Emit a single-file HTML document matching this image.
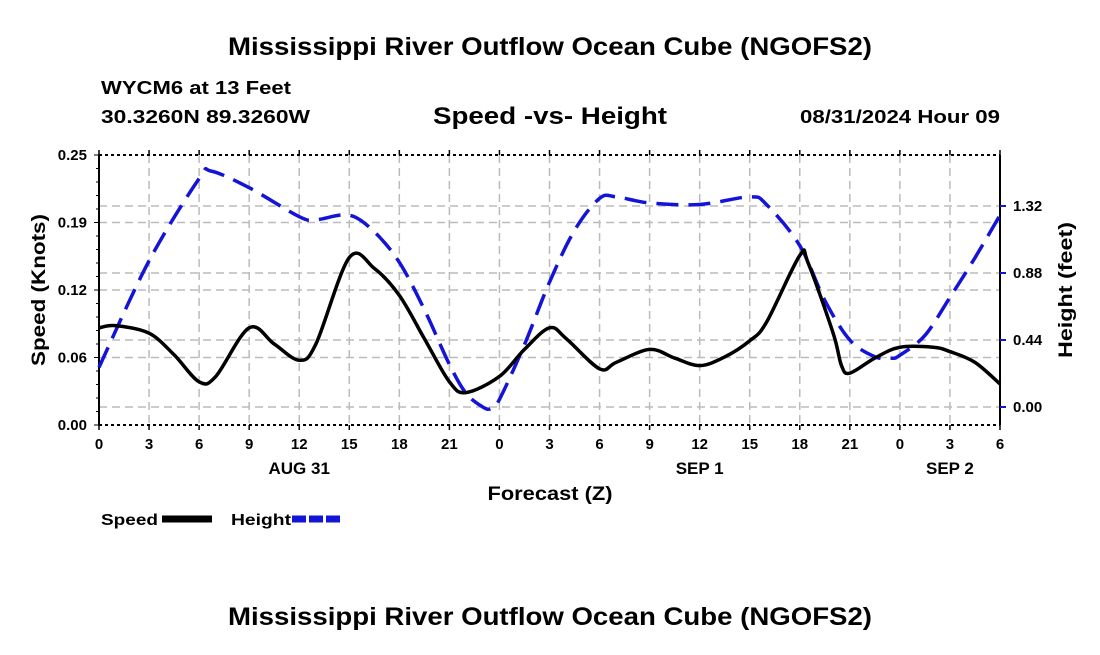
<!DOCTYPE html>
<html><head><meta charset="utf-8"><style>
body{margin:0;background:#fff;}
svg text{font-family:"Liberation Sans",Arial,sans-serif;font-weight:bold;fill:#000;}
</style></head><body>
<svg id="chart" width="1100" height="650" xmlns="http://www.w3.org/2000/svg">
<text x="550" y="55" font-size="25" text-anchor="middle" textLength="644" lengthAdjust="spacingAndGlyphs">Mississippi River Outflow Ocean Cube (NGOFS2)</text>
<text x="101" y="94" font-size="18" textLength="190" lengthAdjust="spacingAndGlyphs">WYCM6 at 13 Feet</text>
<text x="101" y="123" font-size="18" textLength="209" lengthAdjust="spacingAndGlyphs">30.3260N  89.3260W</text>
<text x="550" y="124" font-size="24" text-anchor="middle" textLength="234" lengthAdjust="spacingAndGlyphs">Speed -vs- Height</text>
<text x="1000" y="123" font-size="18" text-anchor="end" textLength="200" lengthAdjust="spacingAndGlyphs">08/31/2024 Hour 09</text>
<g id="grid"></g>
<g id="axes"></g>
<g id="series"></g>
<text transform="translate(45,290) rotate(-90)" font-size="19" text-anchor="middle" textLength="152" lengthAdjust="spacingAndGlyphs">Speed (Knots)</text>
<text transform="translate(1072,290) rotate(-90)" font-size="19" text-anchor="middle" textLength="136" lengthAdjust="spacingAndGlyphs">Height (feet)</text>
<text x="550" y="500" font-size="19" text-anchor="middle" textLength="125" lengthAdjust="spacingAndGlyphs">Forecast (Z)</text>
<g>
<text x="101" y="525" font-size="16" textLength="57" lengthAdjust="spacingAndGlyphs">Speed</text>
<line x1="162" y1="519" x2="212" y2="519" stroke="#000" stroke-width="7"/>
<text x="231" y="525" font-size="16" textLength="60" lengthAdjust="spacingAndGlyphs">Height</text>
<line x1="292" y1="519" x2="342" y2="519" stroke="#1414d8" stroke-width="7" stroke-dasharray="14,3"/>
</g>
<text x="550" y="625" font-size="25" text-anchor="middle" textLength="644" lengthAdjust="spacingAndGlyphs">Mississippi River Outflow Ocean Cube (NGOFS2)</text>
</svg>
<script>
const speedHours=[0,1,3,4.5,6,7,9,10.5,12,13,15,16.5,18,19.5,21,22,24,25.5,27,28,30,31,33,34.5,36,37.5,39,40,42,42.5,44,44.5,45,46.5,48,50,51,52.5,54];
const speedValues=[0.090,0.092,0.085,0.065,0.040,0.045,0.090,0.075,0.060,0.075,0.155,0.145,0.120,0.080,0.040,0.030,0.045,0.070,0.090,0.080,0.052,0.058,0.070,0.062,0.055,0.063,0.078,0.095,0.157,0.150,0.085,0.055,0.048,0.062,0.072,0.072,0.068,0.058,0.038];
const heightHours=[0,3,6,6.7,9,12,13,15,16.5,18,19.5,21,22,23,23.5,24,25.5,27,28.5,30,31,33,36,39,40,42,43.5,45,46.5,47.5,48,49.5,51,52.5,54];
const heightValues=[0.26,0.96,1.50,1.55,1.44,1.25,1.23,1.26,1.15,0.95,0.64,0.28,0.09,0.0,-0.01,0.05,0.41,0.82,1.16,1.37,1.38,1.34,1.33,1.38,1.33,1.06,0.70,0.44,0.33,0.32,0.34,0.47,0.72,0.98,1.26];
const xTickLabels=["0","3","6","9","12","15","18","21","0","3","6","9","12","15","18","21","0","3","6"];
const leftTickLabels=["0.00","0.06","0.12","0.19","0.25"];
const rightTickValues=[0,0.44,0.88,1.32];
const rightTickLabels=["0.00","0.44","0.88","1.32"];
const dateLabels=["AUG 31","SEP 1","SEP 2"];
const dateHours=[12,36,51];

const L=99,R=1000,T=155,B=425;
const X=h=>L+h*(R-L)/54;
const YS=v=>B-v*(B-T)/0.25;
const YH=v=>407-v*67/0.44;
const NS="http://www.w3.org/2000/svg";
function mk(tag,attrs,parent){const e=document.createElementNS(NS,tag);for(const k in attrs)e.setAttribute(k,attrs[k]);parent.appendChild(e);return e;}
const grid=document.getElementById('grid'),axes=document.getElementById('axes'),series=document.getElementById('series');
for(let i=1;i<18;i++){const l=mk('line',{x1:X(i*3),x2:X(i*3),y1:T,y2:B,stroke:'#bbb','stroke-width':1.5,'stroke-dasharray':'8,5'},grid);

}
for(let i=1;i<4;i++){const l=mk('line',{x1:L,x2:R,y1:YS(i*0.0625),y2:YS(i*0.0625),stroke:'#bbb','stroke-width':1.5,'stroke-dasharray':'8,5'},grid);

}
rightTickValues.forEach(v=>{const l=mk('line',{x1:L,x2:R,y1:YH(v),y2:YH(v),stroke:'#bbb','stroke-width':1.5,'stroke-dasharray':'8,5'},grid);

});
mk('line',{x1:L,x2:L,y1:T,y2:B,stroke:'#000','stroke-width':2},axes);
mk('line',{x1:R,x2:R,y1:T,y2:B,stroke:'#000','stroke-width':2},axes);
mk('line',{x1:L,x2:R,y1:T,y2:T,stroke:'#000','stroke-width':2,'stroke-dasharray':'3,3'},axes);
mk('line',{x1:L,x2:R,y1:B,y2:B,stroke:'#000','stroke-width':2,'stroke-dasharray':'3,3'},axes);
for(let i=0;i<=20;i++){mk('line',{x1:L-(i%5==0?5:3),x2:L,y1:YS(i*0.0125),y2:YS(i*0.0125),stroke:'#000','stroke-width':1},axes);}
xTickLabels.forEach((t,i)=>{const x=X(i*3);
mk('line',{x1:x,x2:x,y1:B,y2:B+5,stroke:'#000','stroke-width':1.5},axes);
mk('line',{x1:x,x2:x,y1:T,y2:T-5,stroke:'#000','stroke-width':1.5},axes);
const e=mk('text',{x:x,y:B+24,'font-size':15,'text-anchor':'middle'},axes);e.textContent=t;

});
dateLabels.forEach((t,i)=>{const e=mk('text',{x:X(dateHours[i]),y:B+49,'font-size':17,'text-anchor':'middle'},axes);e.textContent=t;

});
leftTickLabels.forEach((t,i)=>{const e=mk('text',{x:L-12,y:YS(i*0.0625)+5,'font-size':15,'text-anchor':'end'},axes);e.textContent=t;

});
rightTickValues.forEach((v,i)=>{mk('line',{x1:R,x2:R+6,y1:YH(v),y2:YH(v),stroke:'#1414d8','stroke-width':2},axes);
const e=mk('text',{x:R+13,y:YH(v)+5,'font-size':15},axes);e.textContent=rightTickLabels[i];

});
function smooth(pts){let d='M'+pts[0][0]+','+pts[0][1];
for(let i=0;i<pts.length-1;i++){const p0=pts[Math.max(0,i-1)],p1=pts[i],p2=pts[i+1],p3=pts[Math.min(pts.length-1,i+2)];
const c1=[p1[0]+(p2[0]-p0[0])/6,p1[1]+(p2[1]-p0[1])/6],c2=[p2[0]-(p3[0]-p1[0])/6,p2[1]-(p3[1]-p1[1])/6];
d+=' C'+c1[0]+','+c1[1]+' '+c2[0]+','+c2[1]+' '+p2[0]+','+p2[1];}return d;}
const hp=mk('path',{d:smooth(heightHours.map((h,i)=>[X(h),YH(heightValues[i])])),fill:'none',stroke:'#1414d8','stroke-width':3.5,'stroke-dasharray':'22,10'},series);


const sp=mk('path',{d:smooth(speedHours.map((h,i)=>[X(h),YS(speedValues[i])])),fill:'none',stroke:'#000','stroke-width':3.5},series);


</script>
</body></html>
